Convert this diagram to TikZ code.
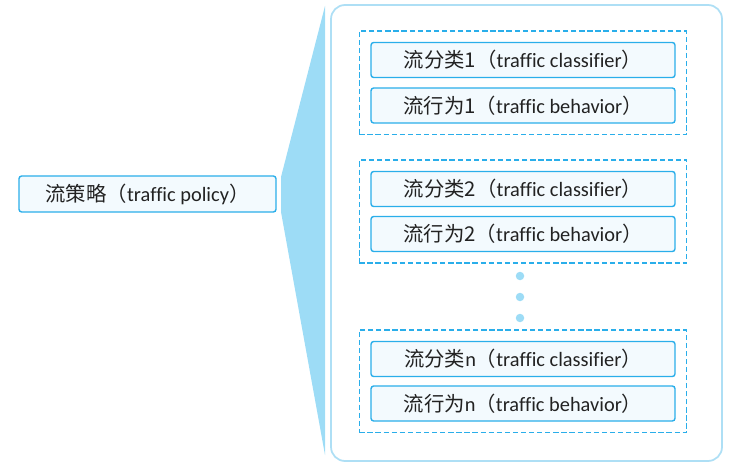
\documentclass[tikz,border=0pt]{standalone}
\usepackage{fontspec}
\setmainfont{Carlito}[Ligatures=NoCommon]
\newfontfamily\cjk{Noto Sans CJK SC}
\usetikzlibrary{fit}
\definecolor{boxline}{HTML}{2AAEEA}
\definecolor{boxfill}{HTML}{F3FAFE}
\definecolor{funnelblue}{HTML}{9DDCF6}
\definecolor{frameline}{HTML}{AEDFF5}
\definecolor{inktext}{HTML}{222222}
\newcommand{\zh}[1]{{\cjk #1}}
\tikzset{
    item/.style={draw=boxline, fill=boxfill, line width=0.8pt, rounded corners=1.5pt,
        minimum width=6.08cm, minimum height=0.7cm, inner sep=0pt, text=inktext,
        font=\fontsize{11.6}{13}\selectfont},
    group/.style={draw=boxline, line width=0.8pt, dash pattern=on 3pt off 1.6pt,
        inner sep=0.22cm},
    dot/.style={circle, fill=funnelblue, inner sep=0pt, minimum size=0.17cm}
}

\begin{document}
\begin{tikzpicture}[x=0.02cm, y=-0.02cm]
        \useasboundingbox (0,0) rectangle (733,473);
        % Policy
            \node[item, minimum width=5.14cm, minimum height=0.72cm] (policy) at (147.5,194) {\zh{流策略（}traffic policy\zh{）}};
        % Funnel and frame
            \fill[funnelblue] (325,6) -- (281,177) -- (281,212) -- (325,455) -- cycle;
            \draw[frameline, line width=1pt, rounded corners=8pt] (331,5) rectangle (722,461);
        % Classifier / behavior pairs
            % First pair
                \node[item] (cls1) at (523,60) {\zh{流分类1（}traffic classifier\zh{）}};
                \node[item] (beh1) at (523,105.5) {\zh{流行为1（}traffic behavior\zh{）}};
                \node[group, fit=(cls1) (beh1)] (grp1) {};
            % Second pair
                \node[item] (cls2) at (523,189) {\zh{流分类2（}traffic classifier\zh{）}};
                \node[item] (beh2) at (523,234) {\zh{流行为2（}traffic behavior\zh{）}};
                \node[group, fit=(cls2) (beh2)] (grp2) {};
            % Last pair
                \node[item] (clsn) at (523,359) {\zh{流分类}n\zh{（}traffic classifier\zh{）}};
                \node[item] (behn) at (523,403.5) {\zh{流行为}n\zh{（}traffic behavior\zh{）}};
                \node[group, fit=(clsn) (behn)] (grpn) {};
        % Dots
            \foreach \y [count=\i] in {276,297,318}
                \node[dot] (dot\i) at (520,\y) {};
    \end{tikzpicture}
\end{document}
